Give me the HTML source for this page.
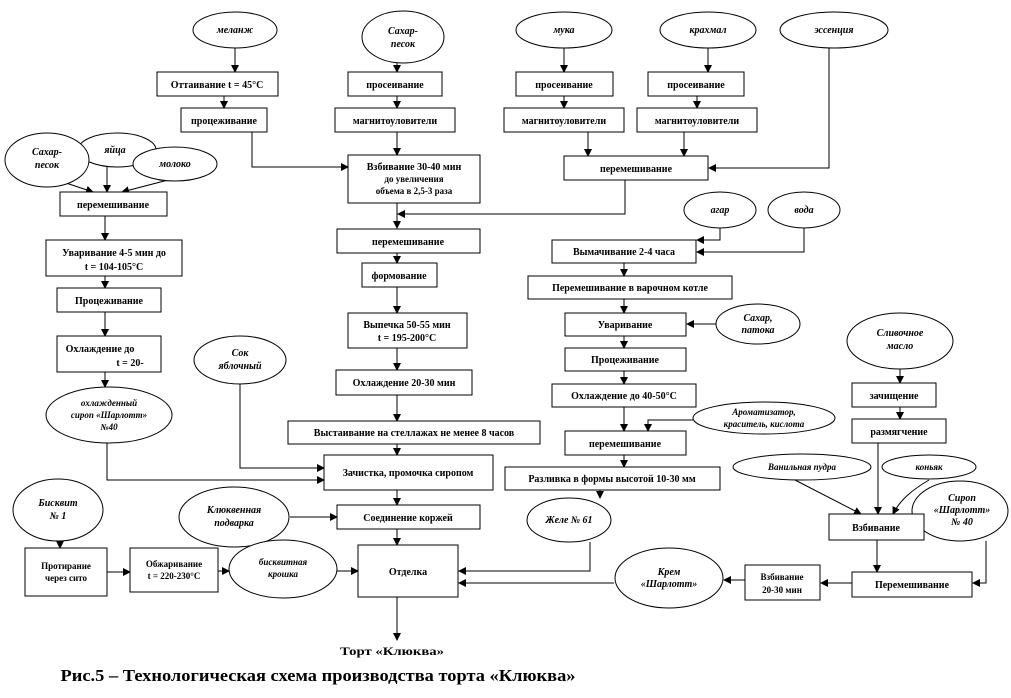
<!DOCTYPE html>
<html><head><meta charset="utf-8"><style>
body{margin:0;background:#fff;}
svg{display:block;}
text{font-family:"Liberation Serif","Noto Serif CJK SC",serif;font-size:10px;font-weight:bold;fill:#000;text-anchor:middle;}
.i{font-style:italic;}
rect,ellipse{fill:#fff;stroke:#000;stroke-width:1;}
line,polyline,path.c{stroke:#000;stroke-width:1;fill:none;}
path.h{fill:#000;stroke:none;}
</style></head><body>
<svg width="1011" height="698" viewBox="0 0 1011 698">
<defs><marker id="a" markerWidth="8" markerHeight="8" refX="7" refY="4" orient="auto" markerUnits="userSpaceOnUse"><path class="h" d="M0,0 L8,4 L0,8 z"/></marker></defs>
<g marker-end="url(#a)">
<line x1="235" y1="48" x2="235" y2="72"/>
<line x1="224" y1="96" x2="224" y2="108"/>
<polyline points="252,132 252,167 348,167"/>
<line x1="397" y1="63" x2="397" y2="72"/>
<line x1="397" y1="96" x2="397" y2="108"/>
<line x1="397" y1="132" x2="397" y2="155"/>
<line x1="397" y1="203" x2="397" y2="228"/>
<polyline points="625,180 625,214 398,214"/>
<line x1="564" y1="48" x2="564" y2="72"/>
<line x1="564" y1="96" x2="564" y2="108"/>
<line x1="588" y1="132" x2="588" y2="156"/>
<line x1="708" y1="48" x2="708" y2="72"/>
<line x1="697" y1="96" x2="697" y2="108"/>
<line x1="684" y1="132" x2="684" y2="156"/>
<polyline points="829,48 829,168 709,168"/>
<line x1="60" y1="181" x2="93" y2="192"/>
<line x1="107" y1="167" x2="107" y2="192"/>
<line x1="168" y1="180" x2="122" y2="192"/>
<line x1="105" y1="216" x2="105" y2="240"/>
<line x1="105" y1="276" x2="105" y2="288"/>
<line x1="105" y1="312" x2="105" y2="336"/>
<line x1="105" y1="372" x2="105" y2="387"/>
<polyline points="107,443 107,480 324,480"/>
<polyline points="240,384 240,468 324,468"/>
<line x1="397" y1="253" x2="397" y2="263"/>
<line x1="397" y1="287" x2="397" y2="313"/>
<line x1="397" y1="348" x2="397" y2="370"/>
<line x1="397" y1="395" x2="397" y2="421"/>
<line x1="397" y1="444" x2="397" y2="455"/>
<line x1="397" y1="490" x2="397" y2="505"/>
<line x1="397" y1="529" x2="397" y2="545"/>
<line x1="397" y1="597" x2="397" y2="640"/>
<polyline points="720,228 720,240 697,240"/>
<polyline points="804,228 804,252 697,252"/>
<line x1="624" y1="263" x2="624" y2="276"/>
<line x1="624" y1="299" x2="624" y2="313"/>
<line x1="624" y1="336" x2="624" y2="348"/>
<line x1="624" y1="371" x2="624" y2="384"/>
<line x1="624" y1="407" x2="624" y2="431"/>
<polyline points="693,420 648,420 648,431"/>
<line x1="624" y1="455" x2="624" y2="467"/>
<line x1="716" y1="324" x2="687" y2="324"/>
<line x1="600" y1="490" x2="600" y2="498"/>
<polyline points="590,542 590,571 459,571"/>
<line x1="614" y1="583" x2="459" y2="583"/>
<line x1="745" y1="580" x2="724" y2="580"/>
<line x1="852" y1="583" x2="821" y2="583"/>
<polyline points="986,541 986,583 973,583"/>
<line x1="900" y1="369" x2="900" y2="383"/>
<line x1="900" y1="407" x2="900" y2="419"/>
<line x1="878" y1="443" x2="878" y2="514"/>
<line x1="795" y1="480" x2="861" y2="514"/>
<path class="c" d="M929,480 C912,490 900,500 893,514"/>
<line x1="877" y1="540" x2="877" y2="572"/>
<line x1="60" y1="540" x2="60" y2="548"/>
<line x1="107" y1="572" x2="130" y2="572"/>
<line x1="218" y1="571" x2="229" y2="571"/>
<line x1="337" y1="571" x2="358" y2="571"/>
<line x1="290" y1="517" x2="337" y2="517"/>
</g>
<ellipse cx="117" cy="150" rx="39" ry="17"/>
<ellipse cx="47" cy="160" rx="42" ry="27"/>
<ellipse cx="175" cy="164" rx="42" ry="17"/>
<ellipse cx="235" cy="30" rx="42" ry="18"/>
<ellipse cx="403" cy="37" rx="41" ry="26"/>
<ellipse cx="564" cy="30" rx="48" ry="18"/>
<ellipse cx="708" cy="30" rx="48" ry="18"/>
<ellipse cx="834" cy="30" rx="54" ry="18"/>
<ellipse cx="720" cy="210" rx="36" ry="18"/>
<ellipse cx="804" cy="210" rx="36" ry="18"/>
<ellipse cx="758" cy="324" rx="42" ry="20"/>
<ellipse cx="900" cy="341" rx="53" ry="28"/>
<ellipse cx="764" cy="418" rx="71" ry="16"/>
<ellipse cx="240" cy="360" rx="46" ry="24"/>
<ellipse cx="109" cy="415" rx="63" ry="28"/>
<ellipse cx="802" cy="467" rx="69" ry="13"/>
<ellipse cx="929" cy="467" rx="47" ry="12"/>
<ellipse cx="960" cy="511" rx="48" ry="30"/>
<ellipse cx="58" cy="510" rx="45" ry="31"/>
<ellipse cx="234" cy="517" rx="55" ry="30"/>
<ellipse cx="569" cy="520" rx="42" ry="22"/>
<ellipse cx="283" cy="569" rx="54" ry="29"/>
<ellipse cx="669" cy="578" rx="54" ry="30"/>
<rect x="157" y="72" width="121" height="24"/>
<rect x="181" y="108" width="86" height="24"/>
<rect x="348" y="72" width="94" height="24"/>
<rect x="335" y="108" width="120" height="24"/>
<rect x="348" y="155" width="132" height="48"/>
<rect x="516" y="72" width="97" height="24"/>
<rect x="504" y="108" width="120" height="24"/>
<rect x="648" y="72" width="96" height="24"/>
<rect x="637" y="108" width="120" height="24"/>
<rect x="564" y="156" width="144" height="24"/>
<rect x="60" y="192" width="107" height="24"/>
<rect x="46" y="240" width="136" height="36"/>
<rect x="57" y="288" width="104" height="24"/>
<rect x="57" y="336" width="104" height="36"/>
<rect x="337" y="229" width="143" height="24"/>
<rect x="362" y="263" width="75" height="24"/>
<rect x="348" y="313" width="119" height="35"/>
<rect x="336" y="370" width="136" height="25"/>
<rect x="288" y="421" width="252" height="23"/>
<rect x="324" y="455" width="169" height="35"/>
<rect x="337" y="505" width="143" height="24"/>
<rect x="358" y="545" width="100" height="52"/>
<rect x="25" y="548" width="82" height="48"/>
<rect x="130" y="548" width="88" height="44"/>
<rect x="552" y="240" width="144" height="23"/>
<rect x="528" y="276" width="204" height="23"/>
<rect x="565" y="313" width="121" height="23"/>
<rect x="565" y="348" width="121" height="23"/>
<rect x="552" y="384" width="144" height="23"/>
<rect x="565" y="431" width="121" height="24"/>
<rect x="505" y="467" width="215" height="23"/>
<rect x="852" y="383" width="84" height="24"/>
<rect x="852" y="419" width="94" height="24"/>
<rect x="829" y="514" width="95" height="26"/>
<rect x="852" y="572" width="120" height="25"/>
<rect x="745" y="565" width="75" height="35"/>
<g class="i">
<text x="235" y="33" class="i">меланж</text>
<text x="403" y="34" class="i">Сахар-</text><text x="403" y="47" class="i">песок</text>
<text x="564" y="33" class="i">мука</text>
<text x="708" y="33" class="i">крахмал</text>
<text x="834" y="33" class="i">эссенция</text>
<text x="47" y="155" class="i">Сахар-</text><text x="47" y="168" class="i">песок</text>
<text x="115" y="153" class="i">яйца</text>
<text x="175" y="167" class="i">молоко</text>
<text x="720" y="213" class="i">агар</text>
<text x="804" y="213" class="i">вода</text>
<text x="758" y="321" class="i">Сахар,</text><text x="758" y="333" class="i">патока</text>
<text x="900" y="336" class="i">Сливочное</text><text x="900" y="349" class="i">масло</text>
<text x="764" y="415" class="i" style="font-size:9px">Ароматизатор,</text><text x="764" y="427" class="i" style="font-size:9px">краситель, кислота</text>
<text x="240" y="356" class="i">Сок</text><text x="240" y="369" class="i">яблочный</text>
<text x="109" y="406" class="i" style="font-size:9px">охлажденный</text><text x="109" y="418" class="i" style="font-size:9px">сироп «Шарлотт»</text><text x="109" y="430" class="i" style="font-size:9px">№40</text>
<text x="802" y="470" class="i" style="font-size:9px">Ванильная пудра</text>
<text x="929" y="470" class="i" style="font-size:9px">коньяк</text>
<text x="962" y="501" class="i">Сироп</text><text x="962" y="513" class="i">«Шарлотт»</text><text x="962" y="525" class="i">№ 40</text>
<text x="58" y="506" class="i">Бисквит</text><text x="58" y="519" class="i">№ 1</text>
<text x="234" y="513" class="i">Клюквенная</text><text x="234" y="526" class="i">подварка</text>
<text x="569" y="523" class="i">Желе № 61</text>
<text x="283" y="565" class="i" style="font-size:9px">бисквитная</text><text x="283" y="577" class="i" style="font-size:9px">крошка</text>
<text x="669" y="575" class="i">Крем</text><text x="669" y="587" class="i">«Шарлотт»</text>
</g>
<text x="217" y="88">Оттаивание t = 45°C</text>
<text x="224" y="124">процеживание</text>
<text x="395" y="88">просеивание</text>
<text x="395" y="124">магнитоуловители</text>
<text x="414" y="170">Взбивание 30-40 мин</text><text x="414" y="182" style="font-size:9px">до увеличения</text><text x="414" y="194" style="font-size:9px">объема в 2,5-3 раза</text>
<text x="564" y="88">просеивание</text>
<text x="564" y="124">магнитоуловители</text>
<text x="696" y="88">просеивание</text>
<text x="697" y="124">магнитоуловители</text>
<text x="636" y="172">перемешивание</text>
<text x="113" y="208">перемешивание</text>
<text x="114" y="256">Уваривание 4-5 мин до</text><text x="114" y="270">t = 104-105°C</text>
<text x="109" y="304">Процеживание</text>
<text x="100" y="352">Охлаждение до</text><text x="130" y="366">t = 20-</text>
<text x="408" y="245">перемешивание</text>
<text x="399" y="279">формование</text>
<text x="407" y="328">Выпечка 50-55 мин</text><text x="407" y="341">t = 195-200°C</text>
<text x="404" y="386">Охлаждение 20-30 мин</text>
<text x="414" y="436">Выстаивание на стеллажах не менее 8 часов</text>
<text x="408" y="476">Зачистка, промочка сиропом</text>
<text x="408" y="521">Соединение коржей</text>
<text x="408" y="575">Отделка</text>
<text x="66" y="569" style="font-size:9px">Протирание</text><text x="66" y="581" style="font-size:9px">через сито</text>
<text x="174" y="567" style="font-size:9px">Обжаривание</text><text x="174" y="579" style="font-size:9px">t = 220-230°C</text>
<text x="624" y="255">Вымачивание 2-4 часа</text>
<text x="630" y="291">Перемешивание в варочном котле</text>
<text x="625" y="328">Уваривание</text>
<text x="625" y="363">Процеживание</text>
<text x="624" y="399">Охлаждение до 40-50°C</text>
<text x="625" y="447">перемешивание</text>
<text x="612" y="482">Разливка в формы высотой 10-30 мм</text>
<text x="894" y="399">зачищение</text>
<text x="899" y="435">размягчение</text>
<text x="876" y="531">Взбивание</text>
<text x="912" y="588">Перемешивание</text>
<text x="782" y="580" style="font-size:9px">Взбивание</text><text x="782" y="593" style="font-size:9px">20-30 мин</text>
<text x="392" y="655" style="font-size:12px" textLength="104" lengthAdjust="spacingAndGlyphs">Торт «Клюква»</text>
<text x="318" y="681" style="font-size:17px" textLength="515" lengthAdjust="spacingAndGlyphs">Рис.5 – Технологическая схема производства торта «Клюква»</text>
</svg>
</body></html>
